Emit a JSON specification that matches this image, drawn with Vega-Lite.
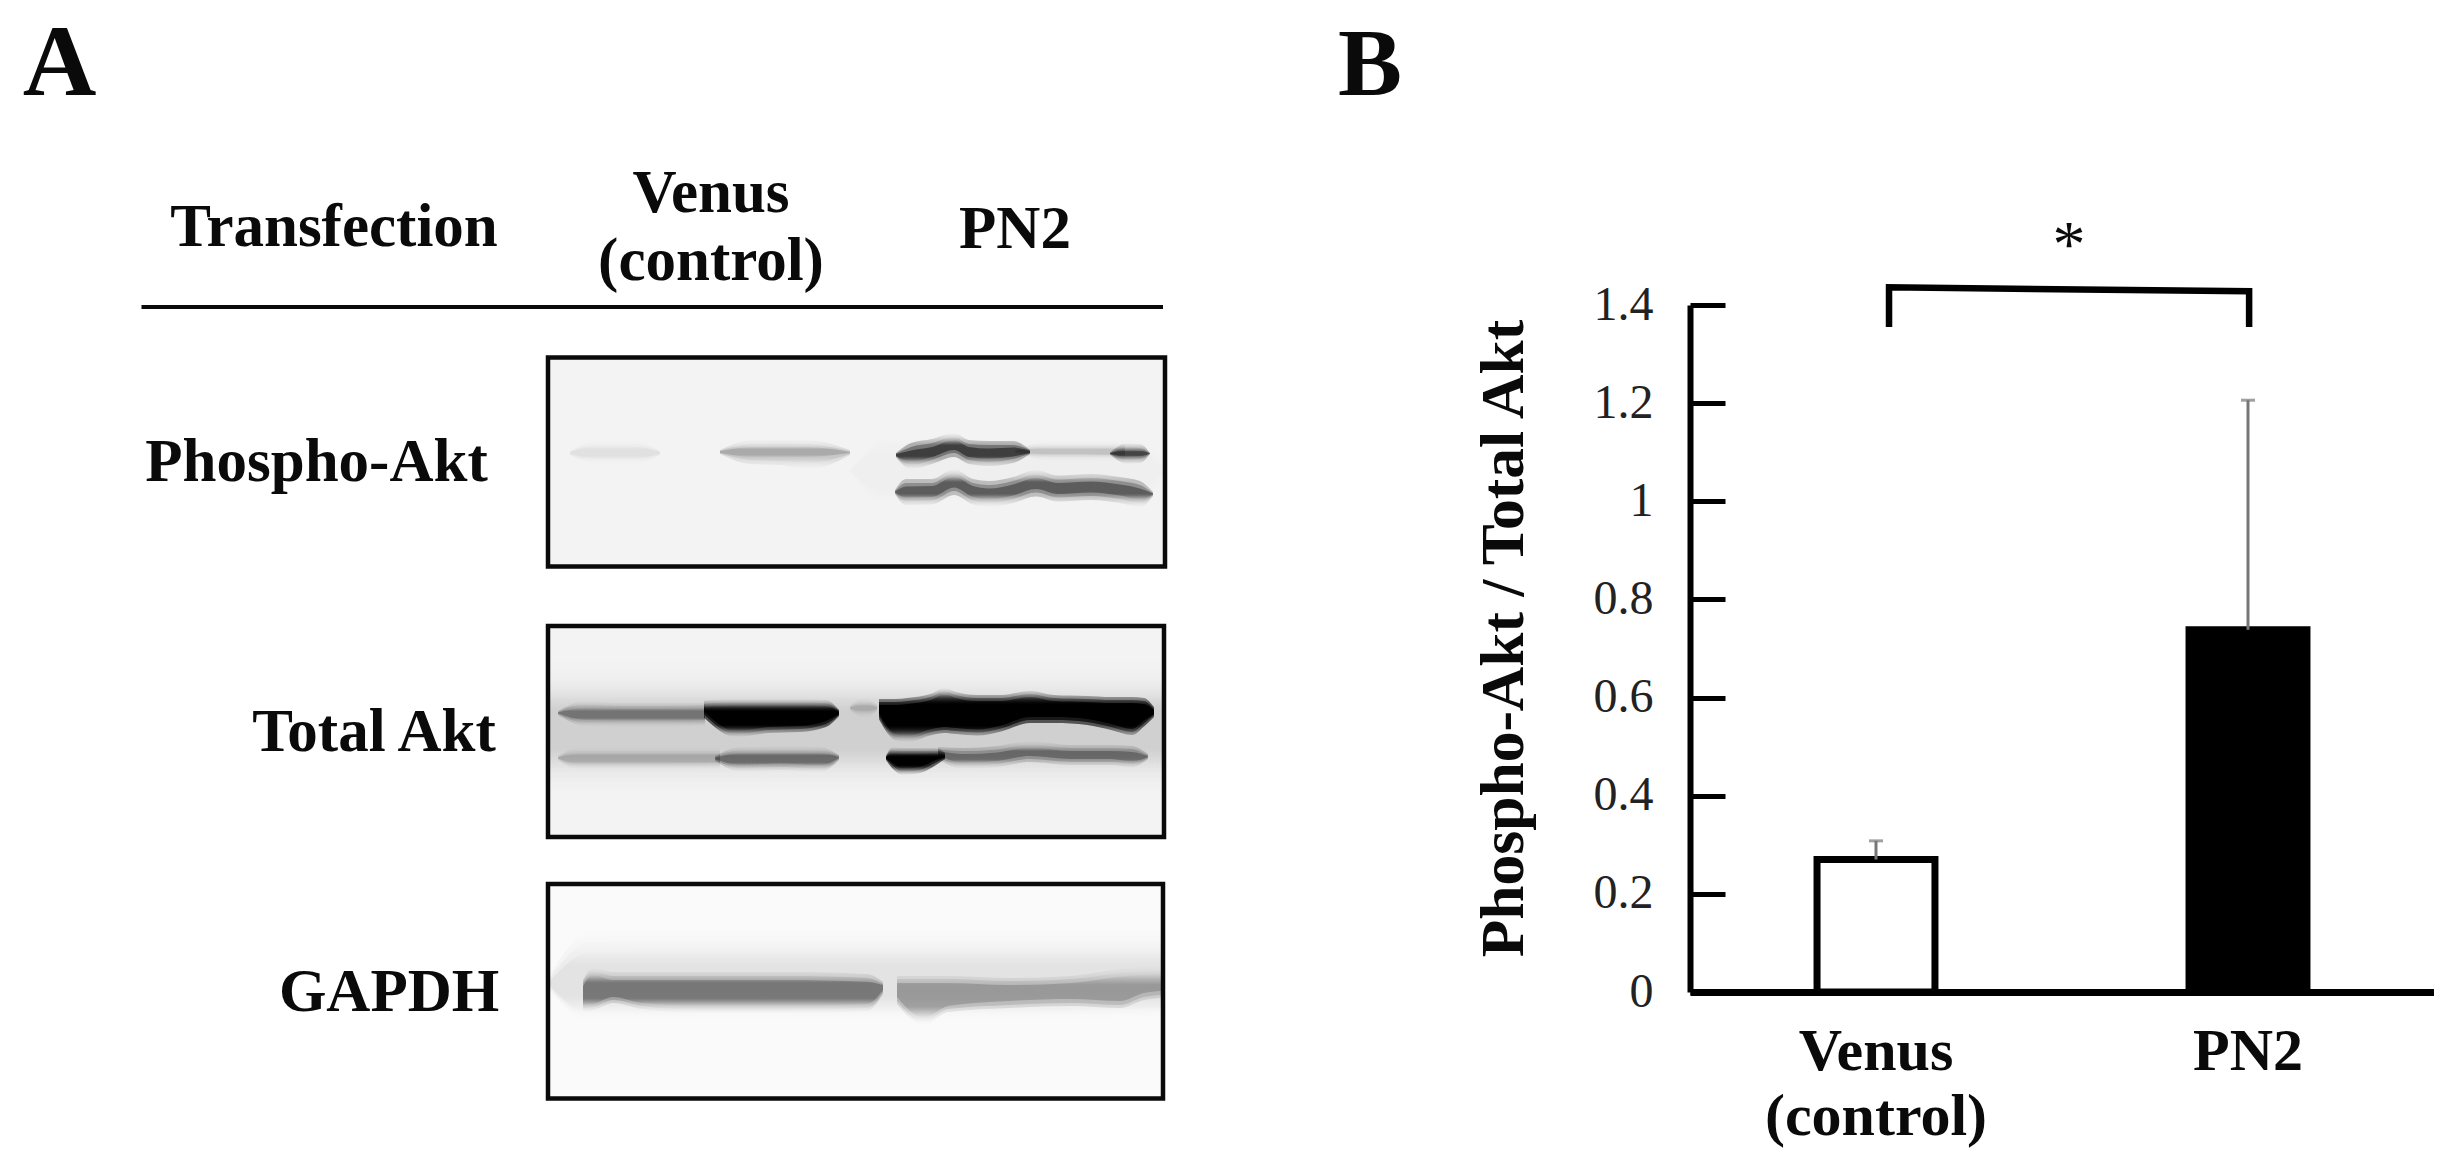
{
"$schema":"https://vega.github.io/schema/vega-lite/v6.json",
"padding":0,
"background":"white",
"config":{"view":{"stroke":null},"font":"Liberation Serif"},
"bounds":"flush",
"spacing":0,
"resolve":{"scale":{"fill":"independent","opacity":"independent"}},
"datasets":{
"blots":[
{"blot":"Phospho-Akt","x0":54.8,"x1":116.5,"y0":35.75,"y1":56.65,"bg":"a"},
{"blot":"Total Akt","x0":54.8,"x1":116.4,"y0":62.6,"y1":83.7,"bg":"b"},
{"blot":"GAPDH","x0":54.8,"x1":116.3,"y0":88.4,"y1":109.85,"bg":"c"}
],
"labels":[
{"t":"Transfection","x":33.4,"y":24.6},
{"t":"Venus","x":71.1,"y":21.2},
{"t":"(control)","x":71.1,"y":28.0},
{"t":"PN2","x":101.5,"y":24.8},
{"t":"Phospho-Akt","x":31.65,"y":48.1},
{"t":"Total Akt","x":37.4,"y":75.1},
{"t":"GAPDH","x":38.9,"y":101.1}
],
"bands":[
{"b":"P-haze","d":0.05,"x":85,"t1":47,"b1":47.1,"t2":47,"b2":47.1,"t3":47,"b3":47.1},
{"b":"P-haze","d":0.05,"x":90,"t1":42.8,"b1":51.3,"t2":43.3,"b2":50.8,"t3":44,"b3":50.2},
{"b":"P-haze","d":0.05,"x":112,"t1":42.8,"b1":51.3,"t2":43.3,"b2":50.8,"t3":44,"b3":50.2},
{"b":"P-haze","d":0.05,"x":116.4,"t1":46,"b1":48,"t2":46.4,"b2":47.6,"t3":46.8,"b3":47.2},
{"b":"P-l1","d":0.12,"x":57,"t1":45.1,"b1":45.5,"t2":45.15,"b2":45.45,"t3":45.2,"b3":45.4},
{"b":"P-l1","d":0.12,"x":60,"t1":44,"b1":46.5,"t2":44.3,"b2":46.2,"t3":44.6,"b3":45.9},
{"b":"P-l1","d":0.12,"x":63,"t1":44,"b1":46.5,"t2":44.3,"b2":46.2,"t3":44.6,"b3":45.9},
{"b":"P-l1","d":0.12,"x":66,"t1":45.1,"b1":45.5,"t2":45.15,"b2":45.45,"t3":45.2,"b3":45.4},
{"b":"P-l2","d":0.3,"x":72,"t1":45,"b1":45.4,"t2":45.05,"b2":45.35,"t3":45.1,"b3":45.3},
{"b":"P-l2","d":0.3,"x":75,"t1":44,"b1":46.4,"t2":44.4,"b2":46,"t3":44.7,"b3":45.7},
{"b":"P-l2","d":0.3,"x":78,"t1":43.9,"b1":46.5,"t2":44.3,"b2":46.1,"t3":44.65,"b3":45.75},
{"b":"P-l2","d":0.3,"x":81,"t1":44,"b1":46.9,"t2":44.4,"b2":46.3,"t3":44.7,"b3":45.7},
{"b":"P-l2","d":0.3,"x":85,"t1":45,"b1":45.5,"t2":45.1,"b2":45.4,"t3":45.2,"b3":45.3},
{"b":"P-U1","d":0.62,"x":89.6,"t1":45.3,"b1":45.7,"t2":45.35,"b2":45.65,"t3":45.4,"b3":45.6},
{"b":"P-U1","d":0.62,"x":91.1,"t1":44.3,"b1":46.9,"t2":44.7,"b2":46.5,"t3":45.05,"b3":46.15},
{"b":"P-U1","d":0.62,"x":93.2,"t1":43.9,"b1":46.4,"t2":44.3,"b2":46,"t3":44.7,"b3":45.7},
{"b":"P-U1","d":0.62,"x":95.4,"t1":43.3,"b1":45.7,"t2":43.7,"b2":45.3,"t3":44,"b3":45},
{"b":"P-U1","d":0.62,"x":96.9,"t1":44,"b1":46.4,"t2":44.4,"b2":46,"t3":44.7,"b3":45.7},
{"b":"P-U1","d":0.62,"x":98.9,"t1":44.1,"b1":46.6,"t2":44.5,"b2":46.2,"t3":44.85,"b3":45.85},
{"b":"P-U1","d":0.62,"x":101.3,"t1":44.1,"b1":46.3,"t2":44.5,"b2":45.9,"t3":44.75,"b3":45.65},
{"b":"P-U1","d":0.62,"x":103,"t1":45,"b1":45.4,"t2":45.05,"b2":45.35,"t3":45.1,"b3":45.3},
{"b":"P-U2","d":0.22,"x":101.5,"t1":45,"b1":45.3,"t2":45.05,"b2":45.25,"t3":45.1,"b3":45.2},
{"b":"P-U2","d":0.22,"x":105,"t1":44.2,"b1":46,"t2":44.5,"b2":45.7,"t3":44.75,"b3":45.45},
{"b":"P-U2","d":0.22,"x":108,"t1":44.2,"b1":46,"t2":44.5,"b2":45.7,"t3":44.75,"b3":45.45},
{"b":"P-U2","d":0.22,"x":111,"t1":44.2,"b1":46.1,"t2":44.5,"b2":45.8,"t3":44.75,"b3":45.55},
{"b":"P-U2","d":0.22,"x":112.5,"t1":44.4,"b1":46.1,"t2":44.7,"b2":45.8,"t3":44.9,"b3":45.6},
{"b":"P-U3","d":0.6,"x":111,"t1":45.25,"b1":45.45,"t2":45.3,"b2":45.4,"t3":45.33,"b3":45.37},
{"b":"P-U3","d":0.6,"x":112.8,"t1":44.3,"b1":46.4,"t2":44.7,"b2":46,"t3":45,"b3":45.7},
{"b":"P-U3","d":0.6,"x":114,"t1":44.4,"b1":46.3,"t2":44.8,"b2":45.9,"t3":45.05,"b3":45.65},
{"b":"P-U3","d":0.6,"x":115,"t1":45.3,"b1":45.4,"t2":45.32,"b2":45.38,"t3":45.34,"b3":45.36},
{"b":"P-L","d":0.52,"x":89.5,"t1":49,"b1":49.4,"t2":49.1,"b2":49.3,"t3":49.15,"b3":49.25},
{"b":"P-L","d":0.52,"x":90.6,"t1":47.9,"b1":50.5,"t2":48.3,"b2":50.1,"t3":48.65,"b3":49.75},
{"b":"P-L","d":0.52,"x":93.2,"t1":47.9,"b1":50.45,"t2":48.3,"b2":50.05,"t3":48.6,"b3":49.7},
{"b":"P-L","d":0.52,"x":95.4,"t1":46.9,"b1":49.5,"t2":47.3,"b2":49.1,"t3":47.65,"b3":48.75},
{"b":"P-L","d":0.52,"x":97.3,"t1":47.9,"b1":50.45,"t2":48.3,"b2":50.05,"t3":48.6,"b3":49.7},
{"b":"P-L","d":0.52,"x":98.9,"t1":48.1,"b1":50.7,"t2":48.5,"b2":50.3,"t3":48.85,"b3":49.95},
{"b":"P-L","d":0.52,"x":101.3,"t1":47.7,"b1":50.3,"t2":48.1,"b2":49.9,"t3":48.45,"b3":49.55},
{"b":"P-L","d":0.52,"x":103.6,"t1":47,"b1":49.65,"t2":47.45,"b2":49.25,"t3":47.8,"b3":48.9},
{"b":"P-L","d":0.52,"x":105.8,"t1":47.55,"b1":50.15,"t2":47.95,"b2":49.75,"t3":48.3,"b3":49.4},
{"b":"P-L","d":0.52,"x":109.1,"t1":47.4,"b1":50,"t2":47.8,"b2":49.6,"t3":48.15,"b3":49.25},
{"b":"P-L","d":0.52,"x":112,"t1":47.7,"b1":50.3,"t2":48.1,"b2":49.9,"t3":48.45,"b3":49.55},
{"b":"P-L","d":0.52,"x":114,"t1":48.1,"b1":50.7,"t2":48.5,"b2":50.3,"t3":48.85,"b3":49.95},
{"b":"P-L","d":0.52,"x":115.3,"t1":49.2,"b1":49.6,"t2":49.3,"b2":49.5,"t3":49.35,"b3":49.45},
{"b":"T-top","d":0.1,"x":54.8,"t1":65.5,"b1":80,"t2":66.5,"b2":79.5,"t3":67.5,"b3":79},
{"b":"T-top","d":0.1,"x":116.4,"t1":65.5,"b1":80,"t2":66.5,"b2":79.5,"t3":67.5,"b3":79},
{"b":"T-haze","d":0.14,"x":54.8,"t1":67.8,"b1":78,"t2":68.5,"b2":77.4,"t3":69.2,"b3":76.8},
{"b":"T-haze","d":0.14,"x":116.4,"t1":67.8,"b1":78,"t2":68.5,"b2":77.4,"t3":69.2,"b3":76.8},
{"b":"T-U1","d":0.4,"x":55.8,"t1":71.1,"b1":71.5,"t2":71.2,"b2":71.4,"t3":71.25,"b3":71.35},
{"b":"T-U1","d":0.4,"x":58.5,"t1":70.1,"b1":72.6,"t2":70.4,"b2":72.3,"t3":70.8,"b3":72},
{"b":"T-U1","d":0.4,"x":62.2,"t1":70.3,"b1":72.7,"t2":70.6,"b2":72.4,"t3":70.9,"b3":72.1},
{"b":"T-U1","d":0.4,"x":66.2,"t1":70.3,"b1":72.7,"t2":70.6,"b2":72.4,"t3":70.9,"b3":72.1},
{"b":"T-U1","d":0.4,"x":70.5,"t1":70.3,"b1":72.5,"t2":70.5,"b2":72.3,"t3":70.8,"b3":72},
{"b":"T-U2","d":1,"x":70.4,"t1":70.07,"b1":71.77,"t2":70.37,"b2":71.47,"t3":70.67,"b3":71.17},
{"b":"T-U2","d":1,"x":73.6,"t1":69.9,"b1":73.7,"t2":70.2,"b2":73.4,"t3":70.5,"b3":73.1},
{"b":"T-U2","d":1,"x":76.9,"t1":69.9,"b1":73.3,"t2":70.2,"b2":73,"t3":70.5,"b3":72.7},
{"b":"T-U2","d":1,"x":80.1,"t1":69.9,"b1":73.2,"t2":70.2,"b2":72.9,"t3":70.5,"b3":72.6},
{"b":"T-U2","d":1,"x":82.6,"t1":70,"b1":72.7,"t2":70.3,"b2":72.4,"t3":70.6,"b3":72.1},
{"b":"T-U2","d":1,"x":83.9,"t1":71,"b1":71.6,"t2":71.1,"b2":71.5,"t3":71.2,"b3":71.4},
{"b":"T-gap","d":0.22,"x":85,"t1":70.6,"b1":71,"t2":70.7,"b2":70.9,"t3":70.75,"b3":70.85},
{"b":"T-gap","d":0.22,"x":86.4,"t1":69.8,"b1":71.8,"t2":70.1,"b2":71.5,"t3":70.4,"b3":71.2},
{"b":"T-gap","d":0.22,"x":87.7,"t1":70.5,"b1":71.1,"t2":70.6,"b2":71,"t3":70.7,"b3":70.9},
{"b":"T-U3","d":1,"x":87.9,"t1":69.9,"b1":71.93,"t2":70.2,"b2":71.63,"t3":70.5,"b3":71.33},
{"b":"T-U3","d":1,"x":89.5,"t1":69.9,"b1":74,"t2":70.2,"b2":73.7,"t3":70.5,"b3":73.4},
{"b":"T-U3","d":1,"x":90.7,"t1":69.8,"b1":74.2,"t2":70.1,"b2":73.9,"t3":70.4,"b3":73.6},
{"b":"T-U3","d":1,"x":93.2,"t1":69.35,"b1":73.5,"t2":69.65,"b2":73.2,"t3":69.95,"b3":72.9},
{"b":"T-U3","d":1,"x":94.4,"t1":68.8,"b1":73.3,"t2":69.1,"b2":73,"t3":69.4,"b3":72.7},
{"b":"T-U3","d":1,"x":95.6,"t1":69.2,"b1":73.4,"t2":69.5,"b2":73.1,"t3":69.8,"b3":72.8},
{"b":"T-U3","d":1,"x":97.7,"t1":69.5,"b1":73.55,"t2":69.8,"b2":73.25,"t3":70.1,"b3":72.95},
{"b":"T-U3","d":1,"x":100.1,"t1":69.5,"b1":73.15,"t2":69.8,"b2":72.85,"t3":70.1,"b3":72.55},
{"b":"T-U3","d":1,"x":103,"t1":69.1,"b1":72.3,"t2":69.4,"b2":72,"t3":69.7,"b3":71.7},
{"b":"T-U3","d":1,"x":105.4,"t1":69.5,"b1":72.3,"t2":69.8,"b2":72,"t3":70.1,"b3":71.7},
{"b":"T-U3","d":1,"x":108.7,"t1":69.6,"b1":72.5,"t2":69.9,"b2":72.2,"t3":70.2,"b3":71.9},
{"b":"T-U3","d":1,"x":111.1,"t1":69.7,"b1":73,"t2":70,"b2":72.7,"t3":70.3,"b3":72.4},
{"b":"T-U3","d":1,"x":113.2,"t1":69.7,"b1":73.5,"t2":70,"b2":73.2,"t3":70.3,"b3":72.9},
{"b":"T-U3","d":1,"x":114.4,"t1":69.8,"b1":72.65,"t2":70.1,"b2":72.35,"t3":70.4,"b3":72.05},
{"b":"T-U3","d":1,"x":115.4,"t1":70.7,"b1":71.7,"t2":70.9,"b2":71.5,"t3":71,"b3":71.4},
{"b":"T-L1","d":0.25,"x":55.8,"t1":75.6,"b1":76,"t2":75.7,"b2":75.9,"t3":75.75,"b3":75.85},
{"b":"T-L1","d":0.25,"x":58,"t1":74.7,"b1":77,"t2":75,"b2":76.7,"t3":75.3,"b3":76.4},
{"b":"T-L1","d":0.25,"x":66,"t1":74.7,"b1":77,"t2":75,"b2":76.7,"t3":75.3,"b3":76.4},
{"b":"T-L1","d":0.25,"x":72,"t1":74.7,"b1":76.9,"t2":75,"b2":76.6,"t3":75.3,"b3":76.3},
{"b":"T-L2","d":0.45,"x":71.5,"t1":75.6,"b1":76.1,"t2":75.7,"b2":76,"t3":75.8,"b3":75.9},
{"b":"T-L2","d":0.45,"x":74,"t1":74.7,"b1":77.1,"t2":75,"b2":76.8,"t3":75.3,"b3":76.5},
{"b":"T-L2","d":0.45,"x":78,"t1":74.6,"b1":77,"t2":74.95,"b2":76.7,"t3":75.25,"b3":76.35},
{"b":"T-L2","d":0.45,"x":82,"t1":74.7,"b1":77.2,"t2":75,"b2":76.9,"t3":75.3,"b3":76.55},
{"b":"T-L2","d":0.45,"x":83.9,"t1":75.5,"b1":76,"t2":75.6,"b2":75.9,"t3":75.7,"b3":75.8},
{"b":"T-L3","d":1,"x":88.6,"t1":75.6,"b1":76,"t2":75.7,"b2":75.9,"t3":75.75,"b3":75.85},
{"b":"T-L3","d":1,"x":89.3,"t1":74.7,"b1":76.9,"t2":75,"b2":76.6,"t3":75.3,"b3":76.35},
{"b":"T-L3","d":1,"x":90.3,"t1":74.8,"b1":77.5,"t2":75.1,"b2":77.2,"t3":75.4,"b3":76.9},
{"b":"T-L3","d":1,"x":92,"t1":74.8,"b1":77.3,"t2":75.1,"b2":77,"t3":75.4,"b3":76.7},
{"b":"T-L3","d":1,"x":93.6,"t1":74.8,"b1":76.5,"t2":75.05,"b2":76.25,"t3":75.3,"b3":76},
{"b":"T-L3","d":1,"x":94.5,"t1":75.3,"b1":75.9,"t2":75.4,"b2":75.8,"t3":75.5,"b3":75.7},
{"b":"T-L4","d":0.45,"x":93.8,"t1":74.7,"b1":75.9,"t2":74.9,"b2":75.7,"t3":75.1,"b3":75.5},
{"b":"T-L4","d":0.45,"x":96.4,"t1":74.8,"b1":76.9,"t2":75.1,"b2":76.6,"t3":75.4,"b3":76.3},
{"b":"T-L4","d":0.45,"x":99.7,"t1":74.6,"b1":76.7,"t2":74.95,"b2":76.4,"t3":75.25,"b3":76.1},
{"b":"T-L4","d":0.45,"x":103,"t1":74.1,"b1":76.2,"t2":74.45,"b2":75.9,"t3":74.75,"b3":75.6},
{"b":"T-L4","d":0.45,"x":107.1,"t1":74.5,"b1":76.5,"t2":74.8,"b2":76.2,"t3":75.1,"b3":75.9},
{"b":"T-L4","d":0.45,"x":111.1,"t1":74.5,"b1":76.5,"t2":74.8,"b2":76.2,"t3":75.1,"b3":75.9},
{"b":"T-L4","d":0.45,"x":113.2,"t1":74.6,"b1":76.7,"t2":74.9,"b2":76.4,"t3":75.2,"b3":76.15},
{"b":"T-L4","d":0.45,"x":114.8,"t1":75.4,"b1":75.9,"t2":75.5,"b2":75.8,"t3":75.6,"b3":75.7},
{"b":"G-haze","d":0.14,"x":55,"t1":97.5,"b1":99,"t2":97.8,"b2":98.8,"t3":98.1,"b3":98.6},
{"b":"G-haze","d":0.14,"x":59,"t1":93.2,"b1":102.2,"t2":94.2,"b2":101.8,"t3":95.2,"b3":101.4},
{"b":"G-haze","d":0.14,"x":88,"t1":92.8,"b1":102.2,"t2":93.8,"b2":101.8,"t3":95,"b3":101.4},
{"b":"G-haze","d":0.14,"x":116.1,"t1":92.8,"b1":101.6,"t2":93.8,"b2":101.2,"t3":95,"b3":100.8},
{"b":"G-1","d":0.42,"x":58.3,"t1":98,"b1":101.1,"t2":98.3,"b2":100.8,"t3":98.6,"b3":100.5},
{"b":"G-1","d":0.42,"x":59.3,"t1":96.8,"b1":101,"t2":97.1,"b2":100.7,"t3":97.5,"b3":100.4},
{"b":"G-1","d":0.42,"x":61.3,"t1":97.2,"b1":100.3,"t2":97.6,"b2":100,"t3":98,"b3":99.7},
{"b":"G-1","d":0.42,"x":64.2,"t1":97.2,"b1":100.9,"t2":97.6,"b2":100.6,"t3":98,"b3":100.3},
{"b":"G-1","d":0.42,"x":70.3,"t1":97.2,"b1":101.3,"t2":97.6,"b2":101,"t3":98,"b3":100.6},
{"b":"G-1","d":0.42,"x":78.5,"t1":97.2,"b1":101.3,"t2":97.6,"b2":101,"t3":98,"b3":100.6},
{"b":"G-1","d":0.42,"x":86.7,"t1":97.4,"b1":101.1,"t2":97.8,"b2":100.8,"t3":98.17,"b3":100.4},
{"b":"G-1","d":0.42,"x":88.3,"t1":98.2,"b1":99.4,"t2":98.4,"b2":99.2,"t3":98.5,"b3":99},
{"b":"G-2","d":0.32,"x":89.7,"t1":97.6,"b1":100.4,"t2":97.9,"b2":100.1,"t3":98.3,"b3":99.7},
{"b":"G-2","d":0.32,"x":92.4,"t1":97.6,"b1":102.5,"t2":97.9,"b2":102.2,"t3":98.3,"b3":101.8},
{"b":"G-2","d":0.32,"x":94.8,"t1":97.6,"b1":101.2,"t2":97.9,"b2":100.9,"t3":98.3,"b3":100.6},
{"b":"G-2","d":0.32,"x":100.9,"t1":97.8,"b1":100.8,"t2":98.1,"b2":100.5,"t3":98.5,"b3":100.1},
{"b":"G-2","d":0.32,"x":107.1,"t1":97.6,"b1":100.6,"t2":97.9,"b2":100.3,"t3":98.3,"b3":99.9},
{"b":"G-2","d":0.32,"x":112,"t1":96.9,"b1":100.8,"t2":97.3,"b2":100.5,"t3":97.67,"b3":100.1},
{"b":"G-2","d":0.32,"x":114.4,"t1":96.7,"b1":100,"t2":97.1,"b2":99.7,"t3":97.5,"b3":99.3},
{"b":"G-2","d":0.32,"x":116.1,"t1":96.6,"b1":99.8,"t2":97,"b2":99.5,"t3":97.33,"b3":99.1}
],
"bars":[
{"cat":"Venus (control)","ratio":0.27,"sd_top":0.308},
{"cat":"PN2","ratio":0.738,"sd_top":1.206}
],
"bracket":[
{"idx":1,"pos":0.535,"ratio":1.355},
{"idx":2,"pos":0.535,"ratio":1.436},
{"idx":3,"pos":1.503,"ratio":1.428},
{"idx":4,"pos":1.503,"ratio":1.355}
],
"notes":[
{"t":"*","pos":1.019,"ratio":1.52}
]
},
"hconcat":[
{
"width":1690,"height":1160,
"resolve":{"scale":{"opacity":"independent"}},
"layer":[
{"data":{"name":"blots"},"mark":{"type":"rect"},
 "encoding":{
 "x":{"field":"x0","type":"quantitative","scale":{"domain":[0,169],"range":[0,1690],"nice":false,"zero":false},"axis":null},
 "x2":{"field":"x1"},
 "y":{"field":"y0","type":"quantitative","scale":{"domain":[0,116],"range":[0,1160],"nice":false,"zero":false},"axis":null},
 "y2":{"field":"y1"},
 "fill":{"field":"bg","type":"nominal","scale":{"domain":["a","b","c"],"range":["#f3f3f3","#f3f3f3","#fafafa"]},"legend":null}}},
{"data":{"name":"bands"},"mark":{"type":"area","interpolate":"monotone","fill":{"gradient":"linear","x1":0,"y1":0,"x2":0,"y2":1,"stops":[{"offset":0,"color":"rgba(0,0,0,0)"},{"offset":0.3,"color":"black"},{"offset":0.7,"color":"black"},{"offset":1,"color":"rgba(0,0,0,0)"}]}},
 "encoding":{"x":{"field":"x","type":"quantitative"},"y":{"field":"t1","type":"quantitative"},"y2":{"field":"b1"},"detail":{"field":"b"},
 "opacity":{"field":"d","type":"quantitative","scale":{"type":"pow","exponent":1.6,"domain":[0,1],"range":[0,0.6]},"legend":null}}},
{"data":{"name":"bands"},"mark":{"type":"area","interpolate":"monotone","fill":{"gradient":"linear","x1":0,"y1":0,"x2":0,"y2":1,"stops":[{"offset":0,"color":"rgba(0,0,0,0)"},{"offset":0.3,"color":"black"},{"offset":0.7,"color":"black"},{"offset":1,"color":"rgba(0,0,0,0)"}]}},
 "encoding":{"x":{"field":"x","type":"quantitative"},"y":{"field":"t2","type":"quantitative"},"y2":{"field":"b2"},"detail":{"field":"b"},
 "opacity":{"field":"d","type":"quantitative","scale":{"type":"pow","exponent":1.6,"domain":[0,1],"range":[0,0.7]},"legend":null}}},
{"data":{"name":"bands"},"mark":{"type":"area","interpolate":"monotone","fill":{"gradient":"linear","x1":0,"y1":0,"x2":0,"y2":1,"stops":[{"offset":0,"color":"rgba(0,0,0,0)"},{"offset":0.25,"color":"black"},{"offset":0.75,"color":"black"},{"offset":1,"color":"rgba(0,0,0,0)"}]}},
 "encoding":{"x":{"field":"x","type":"quantitative"},"y":{"field":"t3","type":"quantitative"},"y2":{"field":"b3"},"detail":{"field":"b"},
 "opacity":{"field":"d","type":"quantitative","scale":{"type":"pow","exponent":1.6,"domain":[0,1],"range":[0,1]},"legend":null}}},
{"data":{"name":"blots"},"mark":{"type":"rect","fillOpacity":0,"stroke":"#0a0a0a","strokeWidth":4.5},
 "encoding":{"x":{"field":"x0","type":"quantitative"},"x2":{"field":"x1"},"y":{"field":"y0","type":"quantitative"},"y2":{"field":"y1"}}},
{"data":{"values":[{"x0":14.15,"x1":116.3,"y":30.7}]},"mark":{"type":"rule","strokeWidth":4,"color":"#0a0a0a"},
 "encoding":{"x":{"field":"x0","type":"quantitative"},"x2":{"field":"x1"},"y":{"field":"y","type":"quantitative"}}},
{"data":{"name":"labels"},"mark":{"type":"text","font":"Liberation Serif","fontWeight":"bold","fontSize":61,"baseline":"alphabetic","align":"center","color":"#0a0a0a"},
 "encoding":{"x":{"field":"x","type":"quantitative"},"y":{"field":"y","type":"quantitative"},"text":{"field":"t"}}},
{"data":{"values":[{"t":"A","x":5.95,"y":9.5}]},"mark":{"type":"text","font":"Liberation Serif","fontWeight":"bold","fontSize":102,"baseline":"alphabetic","align":"center","color":"#0a0a0a"},
 "encoding":{"x":{"field":"x","type":"quantitative"},"y":{"field":"y","type":"quantitative"},"text":{"field":"t"}}}
]
},
{
"width":744,"height":1160,
"resolve":{"scale":{"x":"independent"}},
"layer":[
{"layer":[
 {"data":{"name":"bars"},"mark":{"type":"bar","stroke":"black","strokeWidth":7},
  "encoding":{
  "x":{"field":"cat","type":"nominal","sort":null,"scale":{"paddingInner":0.683,"paddingOuter":0.3415,"range":[0,744]},
   "axis":{"title":null,"offset":-168,"domainWidth":7,"domainColor":"black","ticks":false,"labelAngle":0,"labelFont":"Liberation Serif","labelFontWeight":"bold","labelFontSize":60,"labelColor":"#0a0a0a","labelPadding":30,"labelLineHeight":65,"labelBaseline":"top","labelLimit":500,
    "labelExpr":"datum.value=='PN2'?'PN2':['Venus','(control)']"}},
  "y":{"field":"ratio","type":"quantitative","stack":null,"scale":{"domain":[0,1.4],"range":[992,305],"nice":false,"zero":false},
   "axis":{"title":"Phospho-Akt / Total Akt","values":[0,0.2,0.4,0.6,0.8,1,1.2,1.4],"format":"~g","grid":false,"domainWidth":6,"domainColor":"black","tickColor":"black","tickWidth":5,"tickSize":-35,"labelFont":"Liberation Serif","labelFontSize":48,"labelColor":"#222222","labelPadding":72,"titleFont":"Liberation Serif","titleFontWeight":"bold","titleFontSize":61.5,"titleColor":"#0a0a0a","titleAngle":-90,"titleX":-186,"titleY":638,"titleBaseline":"middle","titleAlign":"center"}},
  "fill":{"field":"cat","type":"nominal","scale":{"domain":["Venus (control)","PN2"],"range":["#ffffff","#000000"]},"legend":null}}},
 {"data":{"name":"bars"},"mark":{"type":"rule","color":"#777777","strokeWidth":3},
  "encoding":{"x":{"field":"cat","type":"nominal","sort":null},"y":{"field":"ratio","type":"quantitative"},"y2":{"field":"sd_top"}}},
 {"data":{"name":"bars"},"mark":{"type":"tick","orient":"horizontal","color":"#777777","size":14,"thickness":3},
  "encoding":{"x":{"field":"cat","type":"nominal","sort":null},"y":{"field":"sd_top","type":"quantitative"}}}
]},
{"layer":[
 {"data":{"name":"bracket"},"mark":{"type":"line","color":"black","strokeWidth":6.5,"strokeCap":"butt","strokeJoin":"miter"},
  "encoding":{"x":{"field":"pos","type":"quantitative","sort":null,"scale":{"domain":[0,2],"range":[0,744],"nice":false,"zero":false},"axis":null},
  "y":{"field":"ratio","type":"quantitative"},"order":{"field":"idx"}}},
 {"data":{"name":"notes"},"mark":{"type":"text","font":"Liberation Serif","fontSize":66,"baseline":"middle","align":"center","color":"#0a0a0a"},
  "encoding":{"x":{"field":"pos","type":"quantitative"},"y":{"field":"ratio","type":"quantitative"},"text":{"field":"t"}}},
 {"data":{"values":[{"t":"B","pos":-0.86,"ratio":1.828}]},"mark":{"type":"text","font":"Liberation Serif","fontWeight":"bold","fontSize":96,"baseline":"alphabetic","align":"center","color":"#0a0a0a"},
  "encoding":{"x":{"field":"pos","type":"quantitative"},"y":{"field":"ratio","type":"quantitative"},"text":{"field":"t"}}}
]}
]
}
]
}
